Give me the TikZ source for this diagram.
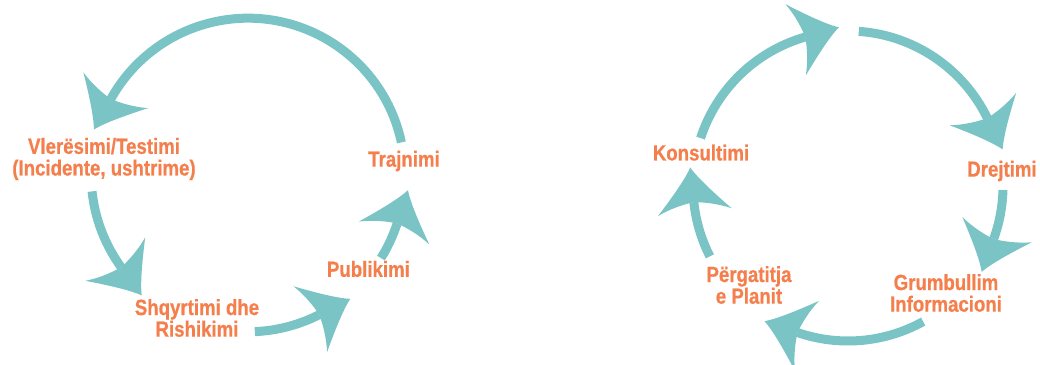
\documentclass[tikz,border=0pt]{standalone}
\usepackage{fontspec}
\setmainfont{Liberation Sans}[FakeStretch=0.85, BoldFeatures={FakeBold=0.7}]
\usepackage{tikz}

\definecolor{cycteal}{RGB}{123,196,198}
\definecolor{steporange}{RGB}{244,127,77}

\begin{document}
\begin{tikzpicture}[
    lbl/.style={align=center, text=steporange, font=\bfseries\fontsize{15.6}{15.4}\selectfont},
    flow/.style={draw=cycteal, line width=0.225cm},
    swoop/.pic={
        \path[fill=cycteal, draw=none, x=0.025cm, y=0.025cm] (35,0) .. controls (24,6) and (6,22) .. (-10,37)
            .. controls (-4,24) and (-1,10) .. (0,0)
            .. controls (-1,-10) and (-4,-24) .. (-10,-37)
            .. controls (6,-22) and (24,-6) .. cycle;}]
    \useasboundingbox (0, 0) rectangle (26, 9.125);
    % left cycle
    \coordinate (lc) at (6.2, 4.75);
    \node[lbl] (vle) at (2.6, 5.15) {Vlerësimi/Testimi\\(Incidente, ushtrime)};
    \node[lbl] (tra) at (10.1, 5.1) {Trajnimi};
    \node[lbl] (pub) at (9.21, 2.4) {Publikimi};
    \node[lbl] (shq) at (4.925, 1.175) {Shqyrtimi dhe\\Rishikimi};
    \draw[flow] ([shift={(12:3.92)}]lc) arc[start angle=12, end angle=151, radius=3.92] pic[rotate=241] {swoop};
    \draw[flow] ([shift={(186:3.92)}]lc) arc[start angle=186, end angle=216, radius=3.92] pic[rotate=306] {swoop};
    \draw[flow] ([shift={(272.5:3.92)}]lc) arc[start angle=272.5, end angle=297, radius=3.92] pic[rotate=27] {swoop};
    \draw[flow] ([shift={(328:3.92)}]lc) arc[start angle=328, end angle=342, radius=3.92] pic[rotate=72] {swoop};
    % right cycle
    \coordinate (rc) at (21.2, 4.475);
    \node[lbl] (kon) at (17.525, 5.31) {Konsultimi};
    \node[lbl] (dre) at (25.05, 4.85) {Drejtimi};
    \node[lbl] (gru) at (23.65, 1.8) {Grumbullim\\Informacioni};
    \node[lbl] (per) at (18.725, 2.0) {Përgatitja\\e Planit};
    \draw[flow] ([shift={(162:3.875)}]rc) arc[start angle=162, end angle=106, radius=3.875] pic[rotate=16] {swoop};
    \draw[flow] ([shift={(86:3.875)}]rc) arc[start angle=86, end angle=26, radius=3.875] pic[rotate=-64] {swoop};
    \draw[flow] ([shift={(-1.5:3.875)}]rc) arc[start angle=-1.5, end angle=-20, radius=3.875] pic[rotate=-110] {swoop};
    \draw[flow] ([shift={(-61:3.875)}]rc) arc[start angle=-61, end angle=-109, radius=3.875] pic[rotate=-199] {swoop};
    \draw[flow] ([shift={(207:3.875)}]rc) arc[start angle=207, end angle=186, radius=3.875] pic[rotate=96] {swoop};
\end{tikzpicture}
\end{document}
